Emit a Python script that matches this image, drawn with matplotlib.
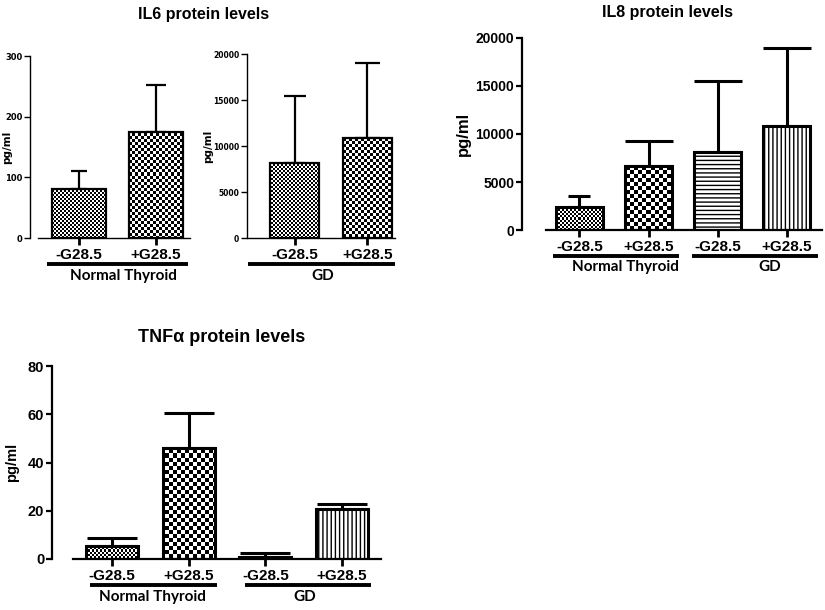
import matplotlib
import numpy as np

matplotlib.use("Agg")
from matplotlib import pyplot as plt
from matplotlib import transforms

plt.rcParams["font.family"] = ["Liberation Sans", "DejaVu Sans"]
plt.rcParams["font.weight"] = "bold"

W, H = 825, 610

conditions = ["-G28.5", "+G28.5"]
groups = ["Normal Thyroid", "GD"]

il6_normal_mean = [80, 175]
il6_normal_err = [30, 78]
il6_gd_mean = [8150, 10850]
il6_gd_err = [7300, 8150]

il8_mean = [2400, 6650, 8150, 10850]
il8_err = [1150, 2650, 7350, 8100]

tnf_mean = [5.5, 46.2, 1.0, 20.6]
tnf_err = [3.2, 14.3, 1.3, 2.4]

# fill per bar: int -> checkerboard cell size in pixels, str -> hatch
FILLS = [2, 4, "----", "||||"]
NARROW = ["Liberation Sans Narrow", "DejaVu Sans"]
LABEL_FONT = ["Lato", "DejaVu Sans"]


def add_axes_px(fig, left, top, right, bottom):
    ax = fig.add_axes([left / W, 1 - bottom / H, (right - left) / W, (bottom - top) / H])
    ax._px = (right - left, bottom - top)
    return ax


def checker(ax, bar, cell, xlim, ylim):
    wpx, hpx = ax._px
    ny, nx = int(np.ceil(hpx / cell)), int(np.ceil(wpx / cell))
    yy, xx = np.mgrid[0:ny, 0:nx]
    board = ((xx + yy) % 2).astype(float)
    x1 = xlim[0] + (xlim[1] - xlim[0]) * nx * cell / wpx
    y1 = ylim[1] - (ylim[1] - ylim[0]) * ny * cell / hpx
    im = ax.imshow(board, cmap="gray", vmin=0, vmax=1, interpolation="nearest",
                   extent=(xlim[0], x1, y1, ylim[1]), origin="upper",
                   aspect="auto", zorder=1.5)
    im.set_clip_path(bar)


def draw_bars(ax, means, errs, fills, caps, width, lw, xlim, ylim):
    x = np.arange(len(means))
    for xi, m, e, cap in zip(x, means, errs, caps):
        ax.errorbar(xi, m, yerr=[[0], [e]], fmt="none", ecolor="black",
                    elinewidth=lw, capsize=cap, capthick=lw, zorder=1)
    bars = ax.bar(x, means, width, color="white", edgecolor="black", linewidth=lw, zorder=2)
    for bar, f in zip(bars, fills):
        if isinstance(f, str):
            bar.set_hatch(f)
            if hasattr(bar, "set_hatch_linewidth"):
                bar.set_hatch_linewidth(1.0)
        else:
            bar.set_facecolor("none")
            checker(ax, bar, f, xlim, ylim)
    return x


def style_axis(ax, xlim, x_start, ylim, yticks, tick_fs, tick_family, lw, xticks, xlabels):
    ax.set_xlim(*xlim)
    ax.set_ylim(*ylim)
    for side in ("top", "right"):
        ax.spines[side].set_visible(False)
    ax.spines["left"].set_linewidth(lw)
    ax.spines["bottom"].set_linewidth(lw)
    ax.spines["bottom"].set_bounds(x_start, xlim[1])
    ax.set_yticks(yticks)
    ax.set_yticklabels([str(t) for t in yticks], fontsize=tick_fs, family=tick_family, weight="bold")
    ax.tick_params(axis="y", length=4, width=lw, pad=1.5)
    ax.set_xticks(xticks)
    ax.set_xticklabels(xlabels, fontsize=11, weight="bold")
    ax.tick_params(axis="x", length=5, width=2, pad=2)
    ax.patch.set_alpha(0)


def group_line(ax, start, end, label, label_x, fs=11, line_pt=19, text_pt=27.5):
    base = transforms.blended_transform_factory(ax.transData, ax.transAxes)
    line_t = transforms.offset_copy(base, fig=ax.figure, y=-line_pt, units="points")
    text_t = transforms.offset_copy(base, fig=ax.figure, y=-text_pt, units="points")
    ax.plot([start, end], [0, 0], transform=line_t, clip_on=False,
            color="black", lw=2.8, solid_capstyle="butt")
    ax.text(label_x, 0, label, transform=text_t, ha="center", va="center",
            fontsize=fs, weight="bold", family=LABEL_FONT)


fig = plt.figure(figsize=(W / 100, H / 100), dpi=100)

# IL6, normal thyroid
ax_a = add_axes_px(fig, 30, 56, 190, 238)
xlim_a, ylim_a = (-0.636, 1.44), (0, 300)
draw_bars(ax_a, il6_normal_mean, il6_normal_err, [2, 3], [6, 7], 0.69, 1.6, xlim_a, ylim_a)
style_axis(ax_a, xlim_a, -0.53, ylim_a, [0, 100, 200, 300], 6, NARROW, 1.0,
           [0, 1], conditions)
ax_a.set_ylabel("pg/ml", fontsize=7.5, family=NARROW, weight="bold")
ax_a.yaxis.set_label_coords(-18 / 160, 0.5)
group_line(ax_a, -0.42, 1.42, groups[0], 0.57)

# IL6, GD
ax_b = add_axes_px(fig, 247, 54, 395, 238)
xlim_b, ylim_b = (-0.651, 1.377), (0, 20000)
draw_bars(ax_b, il6_gd_mean, il6_gd_err, [2, 3], [8, 9], 0.67, 1.6, xlim_b, ylim_b)
style_axis(ax_b, xlim_b, -0.64, ylim_b, [0, 5000, 10000, 15000, 20000], 5.5,
           NARROW, 1.0, [0, 1], conditions)
ax_b.set_ylabel("pg/ml", fontsize=7.5, family=NARROW, weight="bold")
ax_b.yaxis.set_label_coords(-34 / 148, 0.5)
group_line(ax_b, -0.64, 1.38, groups[1], 0.39)

fig.text(204 / W, 1 - 15 / H, "IL6 protein levels", ha="center", va="center",
         fontsize=11.5, weight="bold")

# IL8
ax_c = add_axes_px(fig, 522, 38, 822, 230)
xlim_c, ylim_c = (-0.833, 3.514), (0, 20000)
draw_bars(ax_c, il8_mean, il8_err, FILLS, [8, 17, 17, 17], 0.69, 2.2, xlim_c, ylim_c)
style_axis(ax_c, xlim_c, -0.49, ylim_c, [0, 5000, 10000, 15000, 20000], 10,
           ["Liberation Sans", "DejaVu Sans"], 1.6, [0, 1, 2, 3], conditions * 2)
ax_c.set_ylabel("pg/ml", fontsize=12, weight="bold")
ax_c.yaxis.set_label_coords(-51 / 300, 0.5)
group_line(ax_c, -0.38, 1.44, groups[0], 0.66, line_pt=18.5, text_pt=26.5)
group_line(ax_c, 1.63, 3.46, groups[1], 2.76, line_pt=18.5, text_pt=26.5)
fig.text(667 / W, 1 - 12 / H, "IL8 protein levels", ha="center", va="center",
         fontsize=11.5, weight="bold")

# TNF alpha
ax_d = add_axes_px(fig, 52, 366, 381, 559)
xlim_d, ylim_d = (-0.782, 3.51), (0, 80)
draw_bars(ax_d, tnf_mean, tnf_err, FILLS, [18, 18, 18, 18], 0.68, 2.2, xlim_d, ylim_d)
style_axis(ax_d, xlim_d, -0.51, ylim_d, [0, 20, 40, 60, 80], 10.5,
           ["Liberation Sans", "DejaVu Sans"], 1.6, [0, 1, 2, 3], conditions * 2)
ax_d.set_ylabel("pg/ml", fontsize=10.5, weight="bold")
ax_d.yaxis.set_label_coords(-33 / 329, 0.5)
group_line(ax_d, -0.29, 1.37, groups[0], 0.53)
group_line(ax_d, 1.73, 3.38, groups[1], 2.52)
fig.text(222 / W, 1 - 338 / H, "TNFα protein levels", ha="center", va="center",
         fontsize=13, weight="bold")

fig.savefig("out.png", dpi=100)
